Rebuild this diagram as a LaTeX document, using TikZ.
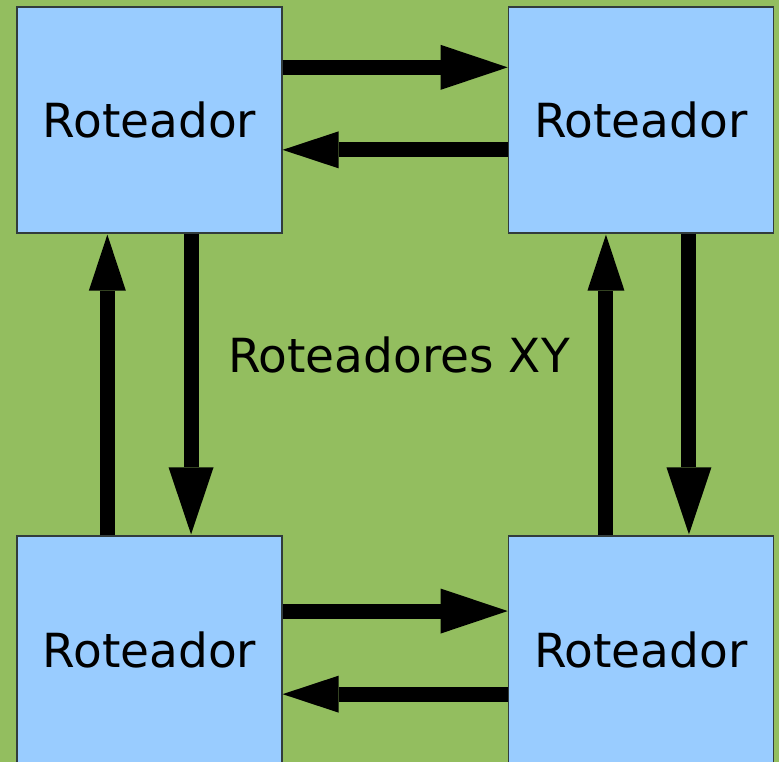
\documentclass[tikz,border=0pt]{standalone}
\usepackage{fontspec}
\setmainfont{DejaVu Sans}
\usetikzlibrary{arrows.meta,calc}
\definecolor{bggreen}{RGB}{147,190,95}
\definecolor{boxblue}{RGB}{153,204,255}
\definecolor{boxline}{RGB}{50,60,60}
\tikzset{
  router/.style={draw=boxline, line width=1.3pt, fill=boxblue, inner sep=0pt,
    minimum width=265pt, minimum height=226pt,
    font=\fontsize{47}{57}\selectfont},
  fwd/.style={line width=15pt, line cap=butt,
    -{Triangle[length=67pt,width=45pt,line width=0pt]}},
  back/.style={line width=15pt, line cap=butt,
    -{Triangle[length=56pt,width=37pt,line width=0pt]}},
}
\begin{document}
\begin{tikzpicture}[x=1pt,y=-1pt]
  % background
  \fill[bggreen] (0,0) rectangle (779,762);
  \useasboundingbox (0,0) rectangle (779,762);

  % routers
  \node[router] (tl) at (149.5,120) {Roteador};
  \node[router] (tr) at (640.8,120) {Roteador};
  \node[router, minimum height=228pt] (bl) at (149.5,650) {Roteador};
  \node[router, minimum height=228pt] (br) at (640.8,650) {Roteador};

  \node[font=\fontsize{47}{57}\selectfont] (lbl) at (399,354.5) {Roteadores XY};

  % top pair
  \draw[fwd]  ($(tl.north east)+(0,61)$)    -- ($(tr.north west)+(0,61)$);
  \draw[back] ($(tr.north west)+(0,143.5)$) -- ($(tl.north east)+(0,143.5)$);

  % left pair
  \draw[fwd]  ($(tl.south west)+(174.7,0)$) -- ($(bl.north west)+(174.7,-1)$);
  \draw[back] ($(bl.north west)+(91,0)$)    -- ($(tl.south west)+(91,1)$);

  % right pair
  \draw[fwd]  ($(tr.south west)+(181.3,0)$) -- ($(br.north west)+(181.3,-1)$);
  \draw[back] ($(br.north west)+(98.3,0)$)  -- ($(tr.south west)+(98.3,1)$);

  % bottom pair
  \draw[fwd]  ($(bl.north east)+(0,75.7)$)  -- ($(br.north west)+(0,75.7)$);
  \draw[back] ($(br.north west)+(0,158.8)$) -- ($(bl.north east)+(0,158.8)$);
\end{tikzpicture}
\end{document}
